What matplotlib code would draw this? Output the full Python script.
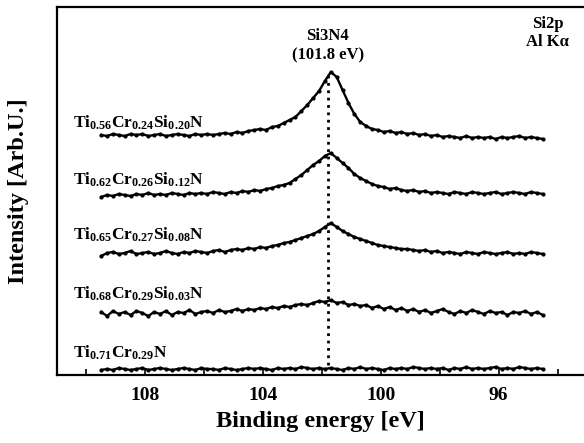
import numpy as np
import matplotlib
matplotlib.use("Agg")
import matplotlib.pyplot as plt
from matplotlib.ticker import MultipleLocator

plt.rcParams['font.family'] = ['Liberation Serif', 'DejaVu Serif']
plt.rcParams['font.weight'] = 'bold'
plt.rcParams['mathtext.fontset'] = 'custom'
plt.rcParams['mathtext.rm'] = 'Liberation Serif:bold'
plt.rcParams['mathtext.it'] = 'Liberation Serif:bold'
plt.rcParams['mathtext.bf'] = 'Liberation Serif:bold'

# binding energy grid (eV), 0.2 eV step
energy = np.round(np.arange(109.5, 94.45, -0.2), 1)

# intensities (arb. units), already offset per curve
s020 = [240, 239, 241, 240, 239, 241, 240, 241, 239, 240,
        241, 239, 240, 241, 240, 239, 241, 240, 241, 240,
        241, 242, 241, 243, 242, 244, 245, 246, 245, 248,
        249, 252, 255, 258, 264, 270, 277, 284, 294, 303,
        298, 285, 272, 261, 253, 249, 246, 245, 243, 244,
        242, 243, 241, 242, 240, 241, 239, 240, 238, 239,
        238, 237, 239, 237, 238, 237, 238, 236, 238, 237,
        238, 239, 237, 238, 237, 236]
s012 = [178, 180, 179, 181, 180, 179, 181, 180, 182, 180,
        181, 180, 182, 181, 180, 182, 181, 182, 181, 183,
        182, 181, 183, 182, 184, 183, 185, 184, 186, 187,
        189, 190, 192, 196, 200, 205, 210, 214, 219, 222,
        217, 212, 207, 201, 197, 194, 191, 189, 188, 186,
        187, 185, 184, 185, 183, 184, 182, 183, 182, 181,
        183, 182, 181, 183, 182, 181, 182, 183, 181, 182,
        183, 182, 181, 183, 182, 181]
s008 = [119, 122, 123, 121, 122, 124, 121, 122, 123, 121,
        122, 124, 122, 121, 123, 122, 124, 123, 122, 124,
        125, 123, 125, 126, 125, 127, 126, 128, 127, 129,
        130, 132, 133, 135, 137, 139, 141, 144, 148, 152,
        148, 144, 141, 138, 136, 134, 132, 130, 129, 128,
        127, 126, 126, 125, 124, 125, 123, 124, 122, 123,
        122, 121, 123, 122, 121, 123, 122, 121, 122, 123,
        121, 122, 121, 123, 122, 121]
s003 = [63, 59, 64, 61, 63, 60, 64, 62, 59, 63,
        61, 64, 60, 63, 62, 65, 61, 63, 64, 62,
        65, 63, 64, 66, 64, 66, 65, 67, 66, 68,
        67, 69, 68, 70, 71, 70, 72, 74, 73, 75,
        72, 73, 70, 71, 69, 70, 67, 69, 66, 68,
        65, 67, 64, 66, 63, 65, 62, 64, 66, 63,
        61, 64, 62, 65, 63, 61, 64, 62, 63, 60,
        63, 62, 64, 61, 63, 60]
s000 = [5, 6, 5, 7, 6, 5, 6, 7, 5, 6,
        7, 6, 5, 6, 7, 6, 5, 7, 6, 6,
        5, 7, 6, 5, 6, 7, 6, 7, 6, 5,
        7, 6, 7, 6, 8, 7, 6, 7, 6, 7,
        6, 5, 7, 6, 8, 6, 7, 6, 5, 7,
        6, 7, 6, 8, 7, 6, 7, 6, 7, 5,
        7, 6, 8, 6, 7, 6, 7, 8, 6, 7,
        6, 8, 7, 6, 7, 6]

series = [s020, s012, s008, s003, s000]
labels = [r'Ti$_{0.56}$Cr$_{0.24}$Si$_{0.20}$N',
          r'Ti$_{0.62}$Cr$_{0.26}$Si$_{0.12}$N',
          r'Ti$_{0.65}$Cr$_{0.27}$Si$_{0.08}$N',
          r'Ti$_{0.68}$Cr$_{0.29}$Si$_{0.03}$N',
          r'Ti$_{0.71}$Cr$_{0.29}$N']
label_y = [247, 190, 135, 76, 17]
peak = 101.8

fig = plt.figure(figsize=(5.84, 4.43), dpi=100)
ax = fig.add_axes([57 / 584, 68 / 443, 527 / 584, 368 / 443])

for s in series:
    ax.plot(energy, s, color='black', lw=1.7, marker='o', ms=2.0,
            mec='black', mfc='black')

for lab, ly in zip(labels, label_y):
    ax.text(110.47, ly, lab, fontsize=12.5, fontweight='bold', ha='left', va='baseline')

ax.plot([peak, peak], [10, 302], color='black', ls=':', lw=2)
ax.text(peak, 329, 'Si3N4\n(101.8 eV)', fontsize=12, fontweight='bold',
        ha='center', va='center', linespacing=1.25)
ax.text(94.34, 342, 'Si2p\nAl Kα', fontsize=12, fontweight='bold',
        ha='center', va='center', linespacing=1.2)

ax.set_xlim(111.0, 93.1)
ax.set_ylim(0, 368)
ax.xaxis.set_major_locator(MultipleLocator(4))
ax.xaxis.set_minor_locator(MultipleLocator(2))
ax.tick_params(axis='x', which='both', direction='in', length=4, width=1.2,
               labelsize=14, pad=9)
ax.set_yticks([])
ax.spines['right'].set_visible(False)
for sp in ['left', 'top', 'bottom']:
    ax.spines[sp].set_linewidth(1.6)

ax.set_xlabel('Binding energy [eV]', fontsize=17.5, fontweight='bold', labelpad=5)
ax.set_ylabel('Intensity [Arb.U.]', fontsize=17.5, fontweight='bold', labelpad=20)

fig.savefig('out.png', dpi=100)
